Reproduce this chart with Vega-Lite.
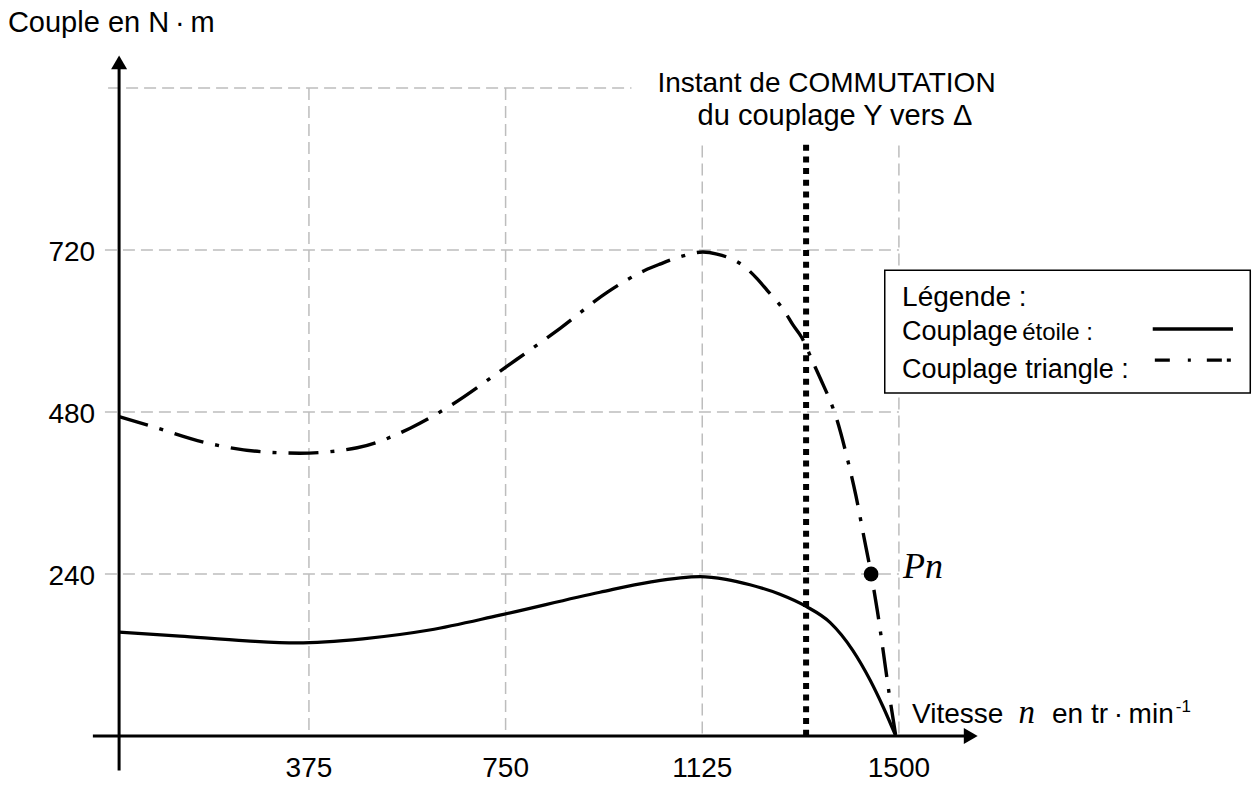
{
  "$schema": "https://vega.github.io/schema/vega-lite/v6.json",
  "width": 1254,
  "height": 785,
  "padding": 0,
  "autosize": {"type": "none"},
  "background": "white",
  "config": {"view": {"stroke": null}},
  "datasets": {
    "grille": [
      {"n": -14, "n2": 1500, "c": 240, "c2": 240},
      {"n": -14, "n2": 1500, "c": 480, "c2": 480},
      {"n": -14, "n2": 1500, "c": 720, "c2": 720},
      {"n": -8, "n2": 990, "c": 960, "c2": 960},
      {"n": 375, "n2": 375, "c": 960, "c2": 0},
      {"n": 750, "n2": 750, "c": 960, "c2": 0},
      {"n": 1125, "n2": 1125, "c": 875, "c2": 0},
      {"n": 1500, "n2": 1500, "c": 875, "c2": 0}
    ],
    "axes": [
      {"n": -37, "n2": 1630, "c": 0, "c2": 0},
      {"n": 13, "n2": 13, "c": -51, "c2": 990}
    ],
    "fleches": [
      {"n": 13, "c": 998, "forme": "triangle-up"},
      {"n": 1637, "c": 0, "forme": "triangle-right"}
    ],
    "commutation": [{"n": 1323, "c": 876, "c2": 0}],
    "courbes": [
      {"couplage": "étoile", "n": 13, "c": 154},
      {"couplage": "étoile", "n": 129, "c": 148},
      {"couplage": "étoile", "n": 256, "c": 141},
      {"couplage": "étoile", "n": 352, "c": 138},
      {"couplage": "étoile", "n": 478, "c": 144},
      {"couplage": "étoile", "n": 605, "c": 157},
      {"couplage": "étoile", "n": 739, "c": 179},
      {"couplage": "étoile", "n": 930, "c": 213},
      {"couplage": "étoile", "n": 1025, "c": 228},
      {"couplage": "étoile", "n": 1121, "c": 236},
      {"couplage": "étoile", "n": 1170, "c": 232},
      {"couplage": "étoile", "n": 1216, "c": 224},
      {"couplage": "étoile", "n": 1273, "c": 210},
      {"couplage": "étoile", "n": 1323, "c": 192},
      {"couplage": "étoile", "n": 1369, "c": 168},
      {"couplage": "étoile", "n": 1412, "c": 127},
      {"couplage": "étoile", "n": 1445, "c": 83},
      {"couplage": "étoile", "n": 1470, "c": 43},
      {"couplage": "étoile", "n": 1494, "c": 0},
      {"couplage": "triangle", "n": 13, "c": 473},
      {"couplage": "triangle", "n": 66, "c": 461},
      {"couplage": "triangle", "n": 181, "c": 434},
      {"couplage": "triangle", "n": 287, "c": 421},
      {"couplage": "triangle", "n": 358, "c": 419},
      {"couplage": "triangle", "n": 467, "c": 427},
      {"couplage": "triangle", "n": 568, "c": 456},
      {"couplage": "triangle", "n": 644, "c": 489},
      {"couplage": "triangle", "n": 753, "c": 548},
      {"couplage": "triangle", "n": 854, "c": 604},
      {"couplage": "triangle", "n": 945, "c": 658},
      {"couplage": "triangle", "n": 1016, "c": 690},
      {"couplage": "triangle", "n": 1044, "c": 699},
      {"couplage": "triangle", "n": 1083, "c": 710},
      {"couplage": "triangle", "n": 1126, "c": 717},
      {"couplage": "triangle", "n": 1153, "c": 714},
      {"couplage": "triangle", "n": 1206, "c": 695},
      {"couplage": "triangle", "n": 1229, "c": 678},
      {"couplage": "triangle", "n": 1248, "c": 661},
      {"couplage": "triangle", "n": 1283, "c": 628},
      {"couplage": "triangle", "n": 1298, "c": 609},
      {"couplage": "triangle", "n": 1315, "c": 590},
      {"couplage": "triangle", "n": 1336, "c": 554},
      {"couplage": "triangle", "n": 1350, "c": 530},
      {"couplage": "triangle", "n": 1382, "c": 468},
      {"couplage": "triangle", "n": 1401, "c": 413},
      {"couplage": "triangle", "n": 1418, "c": 356},
      {"couplage": "triangle", "n": 1433, "c": 296},
      {"couplage": "triangle", "n": 1447, "c": 240},
      {"couplage": "triangle", "n": 1459, "c": 185},
      {"couplage": "triangle", "n": 1470, "c": 126},
      {"couplage": "triangle", "n": 1481, "c": 65},
      {"couplage": "triangle", "n": 1494, "c": 0}
    ],
    "pn": [{"n": 1447, "c": 240, "label": "Pn"}],
    "xticks": [
      {"n": 375, "c": 0, "label": "375"},
      {"n": 750, "c": 0, "label": "750"},
      {"n": 1125, "c": 0, "label": "1125"},
      {"n": 1500, "c": 0, "label": "1500"}
    ],
    "yticks": [
      {"n": 13, "c": 240, "label": "240"},
      {"n": 13, "c": 480, "label": "480"},
      {"n": 13, "c": 720, "label": "720"}
    ],
    "texte29": [
      {"n": -199, "c": 1043, "texte": "Couple en N\u2009·\u2009m"}
    ],
    "texte28": [
      {"n": 1525, "c": 19, "texte": "Vitesse"},
      {"n": 1792, "c": 19, "texte": "en tr\u2009·\u2009min"}
    ],
    "titre1": [
      {"n": 1362, "c": 954, "texte": "Instant de COMMUTATION"}
    ],
    "titre2": [
      {"n": 1378, "c": 905, "texte": "du couplage Y vers Δ"}
    ],
    "italique": [{"n": 1728, "c": 19, "texte": "n"}],
    "exposant": [{"n": 2028, "c": 36, "texte": "-1"}],
    "cadre": [{"n": 1473, "n2": 2170, "c": 690, "c2": 508}],
    "legende28": [
      {"n": 1506, "c": 637, "texte": "Légende :"}
    ],
    "legende24": [{"n": 1735, "c": 586, "texte": "étoile :"}],
    "legende27": [
      {"n": 1506, "c": 586, "texte": "Couplage"},
      {"n": 1506, "c": 531, "texte": "Couplage triangle :"}
    ],
    "echantillons": [
      {"couplage": "étoile", "n": 1984, "n2": 2137, "c": 603, "c2": 603},
      {"couplage": "triangle", "n": 1988, "n2": 2137, "c": 557, "c2": 557}
    ]
  },
  "encoding": {
    "x": {"field": "n", "type": "quantitative", "scale": {"domain": [-214.1, 2177.1], "nice": false, "zero": false}, "axis": null},
    "y": {"field": "c", "type": "quantitative", "scale": {"domain": [-72.6, 1090.4], "nice": false, "zero": false}, "axis": null}
  },
  "layer": [
    {
      "data": {"name": "grille"},
      "mark": {"type": "rule", "color": "#bdbdbd", "strokeWidth": 1.5, "strokeDash": [12, 6]},
      "encoding": {"x2": {"field": "n2"}, "y2": {"field": "c2"}}
    },
    {
      "data": {"name": "axes"},
      "mark": {"type": "rule", "color": "black", "strokeWidth": 3},
      "encoding": {"x2": {"field": "n2"}, "y2": {"field": "c2"}}
    },
    {
      "data": {"name": "fleches"},
      "mark": {"type": "point", "filled": true, "color": "black", "opacity": 1, "size": 256, "strokeWidth": 0},
      "encoding": {"shape": {"field": "forme", "type": "nominal", "scale": null}}
    },
    {
      "data": {"name": "commutation"},
      "mark": {"type": "rule", "color": "black", "strokeWidth": 6, "strokeDash": [6, 5.7]},
      "encoding": {"y2": {"field": "c2"}}
    },
    {
      "data": {"name": "courbes"},
      "transform": [{"filter": "datum.couplage === 'étoile'"}],
      "mark": {"type": "line", "color": "black", "strokeWidth": 3.2, "interpolate": "monotone"}
    },
    {
      "data": {"name": "courbes"},
      "transform": [{"filter": "datum.couplage === 'triangle'"}],
      "mark": {"type": "line", "color": "black", "strokeWidth": 3.4, "interpolate": "monotone", "strokeDash": [30, 12, 4, 12], "strokeCap": "butt"}
    },
    {
      "data": {"name": "pn"},
      "mark": {"type": "point", "shape": "circle", "filled": true, "color": "black", "opacity": 1, "size": 220}
    },
    {
      "data": {"name": "pn"},
      "mark": {"type": "text", "font": "Liberation Serif", "fontStyle": "italic", "fontSize": 36, "align": "left", "baseline": "alphabetic", "dx": 32, "dy": 4, "color": "black"},
      "encoding": {"text": {"field": "label"}}
    },
    {
      "data": {"name": "xticks"},
      "mark": {"type": "text", "font": "Liberation Sans", "fontSize": 28, "align": "center", "baseline": "alphabetic", "dy": 41, "color": "black"},
      "encoding": {"text": {"field": "label"}}
    },
    {
      "data": {"name": "yticks"},
      "mark": {"type": "text", "font": "Liberation Sans", "fontSize": 28, "align": "right", "baseline": "alphabetic", "dx": -24, "dy": 11, "color": "black"},
      "encoding": {"text": {"field": "label"}}
    },
    {
      "data": {"name": "texte29"},
      "mark": {"type": "text", "font": "Liberation Sans", "fontSize": 29, "align": "left", "baseline": "alphabetic", "color": "black"},
      "encoding": {"text": {"field": "texte"}}
    },
    {
      "data": {"name": "texte28"},
      "mark": {"type": "text", "font": "Liberation Sans", "fontSize": 28, "align": "left", "baseline": "alphabetic", "color": "black"},
      "encoding": {"text": {"field": "texte"}}
    },
    {
      "data": {"name": "titre1"},
      "mark": {"type": "text", "font": "Liberation Sans", "fontSize": 28, "align": "center", "baseline": "alphabetic", "color": "black"},
      "encoding": {"text": {"field": "texte"}}
    },
    {
      "data": {"name": "titre2"},
      "mark": {"type": "text", "font": "Liberation Sans", "fontSize": 29, "align": "center", "baseline": "alphabetic", "color": "black"},
      "encoding": {"text": {"field": "texte"}}
    },
    {
      "data": {"name": "italique"},
      "mark": {"type": "text", "font": "Liberation Serif", "fontStyle": "italic", "fontSize": 33, "align": "left", "baseline": "alphabetic", "color": "black"},
      "encoding": {"text": {"field": "texte"}}
    },
    {
      "data": {"name": "exposant"},
      "mark": {"type": "text", "font": "Liberation Sans", "fontSize": 17, "align": "left", "baseline": "alphabetic", "color": "black"},
      "encoding": {"text": {"field": "texte"}}
    },
    {
      "data": {"name": "cadre"},
      "mark": {"type": "rect", "fill": "white", "stroke": "black", "strokeWidth": 1.5},
      "encoding": {"x2": {"field": "n2"}, "y2": {"field": "c2"}}
    },
    {
      "data": {"name": "legende28"},
      "mark": {"type": "text", "font": "Liberation Sans", "fontSize": 28, "align": "left", "baseline": "alphabetic", "color": "black"},
      "encoding": {"text": {"field": "texte"}}
    },
    {
      "data": {"name": "legende24"},
      "mark": {"type": "text", "font": "Liberation Sans", "fontSize": 24, "align": "left", "baseline": "alphabetic", "color": "black"},
      "encoding": {"text": {"field": "texte"}}
    },
    {
      "data": {"name": "legende27"},
      "mark": {"type": "text", "font": "Liberation Sans", "fontSize": 27, "align": "left", "baseline": "alphabetic", "color": "black"},
      "encoding": {"text": {"field": "texte"}}
    },
    {
      "data": {"name": "echantillons"},
      "transform": [{"filter": "datum.couplage === 'étoile'"}],
      "mark": {"type": "rule", "color": "black", "strokeWidth": 3.3},
      "encoding": {"x2": {"field": "n2"}, "y2": {"field": "c2"}}
    },
    {
      "data": {"name": "echantillons"},
      "transform": [{"filter": "datum.couplage === 'triangle'"}],
      "mark": {"type": "rule", "color": "black", "strokeWidth": 3.3, "strokeDash": [15, 18, 3, 16, 15, 5, 4, 40], "strokeCap": "butt"},
      "encoding": {"x2": {"field": "n2"}, "y2": {"field": "c2"}}
    }
  ]
}
